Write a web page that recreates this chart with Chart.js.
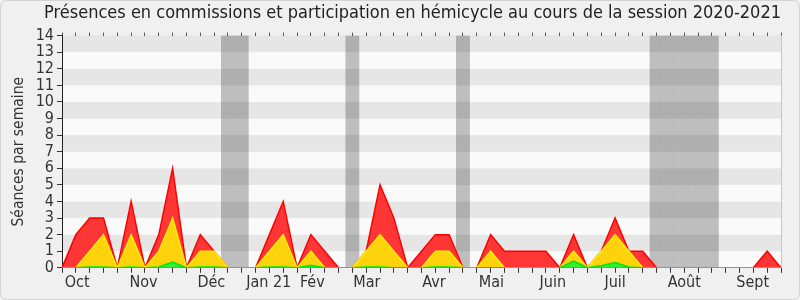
<!DOCTYPE html>
<html>
<head>
<meta charset="utf-8">
<script src="https://cdn.jsdelivr.net/npm/chart.js@4/dist/chart.umd.min.js"></script>
<style>
  html, body { margin: 0; padding: 0; background: #f0f0f0; }
</style>
</head>
<body>
<canvas id="chart" width="800" height="300"></canvas>
<script>
// one value per week of the session, from the last week of September 2020
const presencesTotal = [0, 2, 3, 3, 0, 4, 0, 2, 6, 0, 2, 1, 0, 0, 0, 2, 4, 0, 2, 1,
  0, 0, 1, 5, 3, 0, 1, 2, 2, 0, 0, 2, 1, 1, 1, 1, 0, 2, 0, 1,
  3, 1, 1, 0, 0, 0, 0, 0, 0, 0, 0, 1, 0];
const presencesCommission = [0, 0, 1, 2, 0, 2, 0, 1, 3, 0, 1, 1, 0, 0, 0, 1, 2, 0, 1, 0,
  0, 0, 1, 2, 1, 0, 0, 1, 1, 0, 0, 1, 0, 0, 0, 0, 0, 1, 0, 1,
  2, 1, 0, 0, 0, 0, 0, 0, 0, 0, 0, 0, 0];
const participationHemicycle = [0, 0, 0.05, 0.05, 0, 0.05, 0, 0.05, 0.35, 0, 0.05, 0.05, 0, 0, 0, 0.05, 0.05, 0, 0.15, 0,
  0, 0, 0.05, 0.05, 0, 0, 0, 0.05, 0.05, 0, 0, 0, 0, 0, 0, 0, 0, 0.4, 0, 0.12,
  0.32, 0.05, 0, 0, 0, 0, 0, 0, 0, 0, 0, 0, 0];

// weeks without sessions (vacances parlementaires)
const holidayWeeks = [12, 13, 21, 29, 43, 44, 45, 46, 47];

const monthLabels = ['Oct', 'Nov', 'Déc', 'Jan 21', 'Fév', 'Mar', 'Avr', 'Mai', 'Juin', 'Juil', 'Août', 'Sept'];
const monthPositions = [1.1, 5.9, 10.8, 14.95, 18.1, 22.05, 26.9, 31.05, 35.5, 40, 45, 49.95];

const yMax = 14;
const lastWeek = presencesTotal.length - 1;

Chart.defaults.font.family = '"DejaVu Sans Condensed", "DejaVu Sans", sans-serif';
Chart.defaults.color = '#333';

const toPoints = arr => arr.map((v, i) => ({ x: i, y: v }));

const weekTicks = () => presencesTotal.map((v, i) => ({ value: i }));

// background, horizontal stripes and holiday bands
const backdrop = {
  id: 'backdrop',
  beforeDraw(chart) {
    const { ctx, chartArea: a, scales: { x, y } } = chart;
    ctx.save();
    ctx.fillStyle = '#f0f0f0';
    ctx.fillRect(0, 0, chart.width, chart.height);
    ctx.strokeStyle = '#d4d4d4';
    ctx.lineWidth = 1;
    ctx.beginPath();
    ctx.roundRect(0.5, 0.5, chart.width - 1, chart.height - 1, 6);
    ctx.stroke();

    for (let k = 0; k < yMax; k++) {
      const top = y.getPixelForValue(k + 1);
      const bottom = y.getPixelForValue(k);
      ctx.fillStyle = k % 2 === 1 ? '#e6e6e6' : '#fafafa';
      ctx.fillRect(a.left, top, a.right - a.left, bottom - top);
    }

    ctx.fillStyle = 'rgba(0, 0, 0, 0.24)';
    holidayWeeks.forEach(w => {
      const l = Math.max(a.left, x.getPixelForValue(w - 0.5));
      const r = Math.min(a.right, x.getPixelForValue(w + 0.5));
      ctx.fillRect(l, a.top, r - l, a.bottom - a.top);
    });
    ctx.restore();
  },
  afterDraw(chart) {
    const { ctx, chartArea: a } = chart;
    ctx.save();
    ctx.strokeStyle = '#c8c8c8';
    ctx.lineWidth = 1;
    ctx.beginPath();
    ctx.moveTo(Math.round(a.right) + 0.5, a.top);
    ctx.lineTo(Math.round(a.right) + 0.5, a.bottom);
    ctx.stroke();
    ctx.restore();
  }
};

new Chart(document.getElementById('chart'), {
  type: 'line',
  data: {
    datasets: [
      {
        label: 'Présences',
        data: toPoints(presencesTotal),
        borderColor: '#ff0000',
        backgroundColor: '#ff3636',
        borderWidth: 1.5,
        fill: 'origin',
        order: 3
      },
      {
        label: 'Commission',
        data: toPoints(presencesCommission),
        borderColor: '#ffee00',
        backgroundColor: '#ffd30c',
        borderWidth: 1.5,
        fill: 'origin',
        order: 2
      },
      {
        label: 'Hémicycle',
        data: toPoints(participationHemicycle),
        borderColor: '#00e600',
        backgroundColor: '#33ee33',
        borderWidth: 1.5,
        fill: 'origin',
        order: 1
      }
    ]
  },
  options: {
    responsive: false,
    devicePixelRatio: 1,
    animation: false,
    elements: { point: { radius: 0 }, line: { tension: 0 } },
    layout: { padding: { top: 3, left: 6, right: 19, bottom: 8 } },
    plugins: {
      legend: { display: false },
      tooltip: { enabled: false },
      title: {
        display: true,
        align: 'end',
        text: 'Présences en commissions et participation en hémicycle au cours de la session 2020-2021',
        color: '#222',
        font: { size: 18, weight: 'normal' },
        padding: { top: 0, bottom: 8 }
      }
    },
    scales: {
      x: {
        type: 'linear',
        position: 'bottom',
        min: 0,
        max: lastWeek,
        afterBuildTicks: scale => {
          const t = weekTicks();
          monthLabels.forEach((m, i) => t.push({ value: monthPositions[i], month: m }));
          t.sort((a, b) => a.value - b.value);
          scale.ticks = t;
        },
        ticks: {
          autoSkip: false,
          maxRotation: 0,
          padding: 0,
          font: { size: 16 },
          color: '#333',
          callback: (v, i, ticks) => ticks[i].month || ''
        },
        grid: {
          drawOnChartArea: false,
          tickLength: 5,
          tickColor: c => (c.tick && c.tick.month) ? 'rgba(0,0,0,0)' : '#333'
        },
        border: { color: '#222', width: 1 }
      },
      xTop: {
        type: 'linear',
        position: 'top',
        min: 0,
        max: lastWeek,
        afterBuildTicks: scale => { scale.ticks = weekTicks(); },
        ticks: { display: false },
        grid: { drawOnChartArea: false, tickLength: 3, tickColor: '#555' },
        border: { display: false }
      },
      y: {
        min: 0,
        max: yMax,
        afterFit: scale => { scale.width = 56; },
        ticks: { stepSize: 1, autoSkip: false, font: { size: 16 }, color: '#333', padding: 3 },
        grid: { drawOnChartArea: false, tickLength: 5, tickColor: '#333' },
        border: { color: '#222', width: 1 },
        title: {
          display: true,
          text: 'Séances par semaine',
          color: '#333',
          font: { size: 15.5 },
          padding: { top: 4, bottom: 2 }
        }
      }
    }
  },
  plugins: [backdrop]
});
</script>
</body>
</html>
